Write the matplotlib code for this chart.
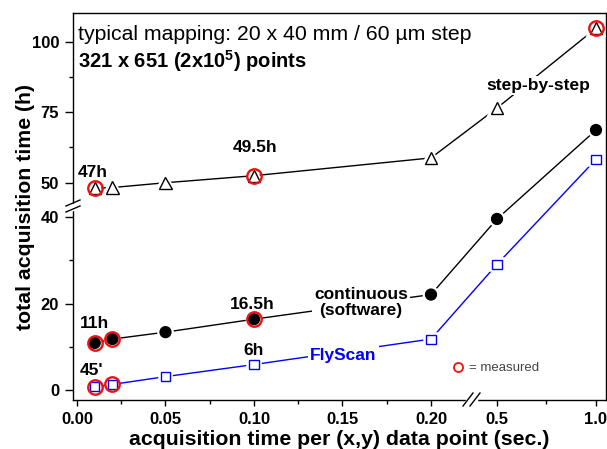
import numpy as np
import matplotlib
matplotlib.use('Agg')
import matplotlib.pyplot as plt
from matplotlib.lines import Line2D
from matplotlib.ticker import FixedLocator, FixedFormatter
import matplotlib.patheffects as pe

# ---------------- data ----------------
x_time = [0.01, 0.02, 0.05, 0.10, 0.20, 0.5, 1.0]
step_by_step = [48.0, 48.3, 50.0, 52.5, 58.8, 76.5, 104.8]
continuous = [10.9, 11.8, 13.4, 16.4, 22.1, 39.6, 68.7]
flyscan = [0.77, 1.3, 3.1, 5.9, 11.8, 29.1, 58.3]

measured_step_x = [0.01, 0.10, 1.0]
measured_cont_x = [0.01, 0.02, 0.10]
measured_fly_x = [0.01, 0.02]

x_ticks = [0.0, 0.05, 0.10, 0.15, 0.20, 0.5, 1.0]
x_ticklabels = ['0.00', '0.05', '0.10', '0.15', '0.20', '0.5', '1.0']
x_minor = [0.025, 0.075, 0.125, 0.175, 0.75]
y_ticks = [0, 20, 40, 50, 75, 100]
y_ticklabels = ['0', '20', '40', '50', '75', '100']
y_minor = [10, 30, 62.5, 87.5]

plt.rcParams['font.family'] = ['Liberation Sans', 'DejaVu Sans']
plt.rcParams['mathtext.fontset'] = 'custom'
plt.rcParams['mathtext.rm'] = 'Liberation Sans'
plt.rcParams['mathtext.bf'] = 'Liberation Sans:bold'

W, H = 607, 449
fig = plt.figure(figsize=(W / 100, H / 100), dpi=100)

L, R, T, B = 73, 605.5, 13, 400
ax = fig.add_axes([L / W, (H - B) / H, (R - L) / W, (B - T) / H])


# broken x axis: 0..0.2 linear, then 0.5..1.0 compressed
def fx(v):
    v = np.asarray(v, float)
    return np.where(v <= 0.2, v * 1770.0, 420.0 + (v - 0.5) * 198.0)


def fx_inv(g):
    g = np.asarray(g, float)
    return np.where(g <= 354.0, g / 1770.0,
                    np.where(g < 360.6, 0.2, 0.5 + (g - 420.0) / 198.0))


# broken y axis: 0..42 linear, then compressed above
def fy(v):
    v = np.asarray(v, float)
    return np.where(v <= 42.0, v * 4.32, 207.3 + (v - 50.0) * 2.82)


def fy_inv(f):
    f = np.asarray(f, float)
    return np.where(f <= 181.44, f / 4.32,
                    np.where(f < 184.74, 42.0, 50.0 + (f - 207.3) / 2.82))


ax.set_xscale('function', functions=(fx, fx_inv))
ax.set_yscale('function', functions=(fy, fy_inv))
ax.set_xlim(-0.00226, 1.048)
ax.set_ylim(-2.31, 110.2)

halo = [pe.withStroke(linewidth=4, foreground='white')]


def series(yv, color, marker, ms, mfc, mew):
    ax.plot(x_time, yv, '-', color=color, lw=1.0, zorder=2)
    ax.plot(x_time, yv, ls='none', marker=marker, ms=ms, mfc=mfc, mec=color,
            mew=mew, zorder=3, path_effects=halo)


series(step_by_step, 'black', '^', 8.8, 'white', 1.0)
series(continuous, 'black', 'o', 8.0, 'black', 0.8)
series(flyscan, '#0000ff', 's', 6.5, 'white', 1.0)


def pick(xs, ys, sel):
    return [ys[xs.index(s)] for s in sel]


for sel, ys in [(measured_step_x, step_by_step), (measured_cont_x, continuous),
                (measured_fly_x, flyscan)]:
    ax.plot(sel, pick(x_time, ys, sel), ls='none', marker='o', ms=10.4,
            mfc='none', mec='#ee1111', mew=1.7, zorder=4)

# ticks
ax.xaxis.set_major_locator(FixedLocator(x_ticks))
ax.xaxis.set_major_formatter(FixedFormatter(x_ticklabels))
ax.xaxis.set_minor_locator(FixedLocator(x_minor))
ax.yaxis.set_major_locator(FixedLocator(y_ticks))
ax.yaxis.set_major_formatter(FixedFormatter(y_ticklabels))
ax.yaxis.set_minor_locator(FixedLocator(y_minor))
ax.tick_params(which='both', direction='out', width=1.0, top=False, right=False)
ax.tick_params(axis='x', which='major', length=4.5, pad=4.5)
ax.tick_params(axis='x', which='minor', length=2.8)
ax.tick_params(axis='y', which='major', length=5.5, pad=4.5)
ax.tick_params(axis='y', which='minor', length=3.2)
for lab in ax.get_xticklabels() + ax.get_yticklabels():
    lab.set_fontsize(12)
    lab.set_fontweight('bold')
for s in ax.spines.values():
    s.set_linewidth(1.0)

ax.set_xlabel('acquisition time per (x,y) data point (sec.)', fontsize=15.3,
              fontweight='bold', labelpad=2)
ax.set_ylabel('total acquisition time (h)', fontsize=15.3, fontweight='bold',
              labelpad=-2.5)


def P(px, py):
    return px / W, 1 - py / H


def ftext(px, py, s, **kw):
    kw.setdefault('va', 'baseline')
    kw.setdefault('ha', 'left')
    fig.text(*P(px, py), s, **kw)


# axis-break decorations (in pixel space)
def pline(xs, ys, **kw):
    fig.add_artist(Line2D([a / W for a in xs], [1 - b / H for b in ys], **kw))


# y-break
pline([73, 73], [204.5, 209.5], color='white', lw=2.5, zorder=10)
pline([66, 80], [206, 200], color='black', lw=1.0, zorder=11)
pline([66, 80], [212, 206], color='black', lw=1.0, zorder=11)
# x-break
pline([467, 476], [400, 400], color='white', lw=2.5, zorder=10)
pline([463, 473], [406, 393], color='black', lw=1.0, zorder=11)
pline([470, 480], [406, 393], color='black', lw=1.0, zorder=11)

# annotations
ftext(78, 40, 'typical mapping: 20 x 40 mm / 60 µm step', fontsize=15.3)
ftext(78, 68, r'321 x 651 (2x10$^{\mathbf{5}}$) points', fontsize=14.5,
      fontweight='bold')
bold = dict(fontsize=12.5, fontweight='bold')
ftext(78, 177, '47h', **bold)
ftext(233, 152, '49.5h', **bold)
ftext(486, 90, 'step-by-step', zorder=5,
      bbox=dict(fc='white', ec='none', pad=1.5), **bold)
ftext(80, 328, '11h', **bold)
ftext(230, 309, '16.5h', **bold)
ftext(80, 375, "45'", **bold)
ftext(243, 355, '6h', **bold)
ftext(361, 315, 'continuous\n(software)', ha='center', ma='center',
      linespacing=1.1, bbox=dict(fc='white', ec='none', pad=1.5), **bold)
ftext(310, 360, 'FlyScan', color='#0000ff',
      bbox=dict(fc='white', ec='none', pad=1.5), **bold)

# "measured" key
handle = Line2D([], [], ls='none', marker='o', ms=6.5, mfc='none',
                mec='#ee1111', mew=1.3)
leg = ax.legend([handle], ['= measured'], loc='center left',
                bbox_to_anchor=P(445, 368), bbox_transform=fig.transFigure,
                frameon=False, handlelength=1.0, handletextpad=0.3,
                borderpad=0, fontsize=9.5)
for t in leg.get_texts():
    t.set_color('#444444')

fig.savefig('out.png', dpi=100)
